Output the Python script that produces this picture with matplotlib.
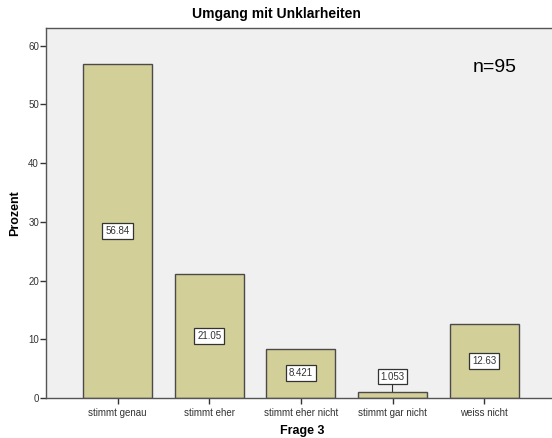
import numpy as np
import matplotlib
matplotlib.use("Agg")
import matplotlib.pyplot as plt

plt.rcParams['font.family'] = ['Liberation Sans', 'DejaVu Sans']

# Daten
kategorien = ["stimmt genau", "stimmt eher", "stimmt eher nicht", "stimmt gar nicht", "weiss nicht"]
prozent = [56.84, 21.05, 8.421, 1.053, 12.63]
etiketten = ["56.84", "21.05", "8.421", "1.053", "12.63"]
yticks = [0, 10, 20, 30, 40, 50, 60]

fig = plt.figure(figsize=(5.52, 4.38), dpi=100)
ax = fig.add_axes([46/552, 1-398/438, 1-46/552+0.01, (398-28)/438])
ax.set_facecolor("#f0f0f0")

x = np.arange(len(kategorien))
ax.bar(x, prozent, width=0.75, color="#d3cf98", edgecolor="#4a4a4a", linewidth=1.0, zorder=2)

box = dict(boxstyle="square,pad=0.3", facecolor="white", edgecolor="#333333", linewidth=0.9)
for i, (v, t) in enumerate(zip(prozent, etiketten)):
    if v < 3:
        ax.annotate(t, xy=(i, v), xytext=(i, v + 2.6), ha="center", va="center",
                    fontsize=7, color="#333333", bbox=box,
                    arrowprops=dict(arrowstyle="-", color="#333333", lw=0.8, shrinkA=0, shrinkB=0), zorder=3)
    else:
        ax.text(i, v / 2, t, ha="center", va="center", fontsize=7, color="#333333", bbox=box, zorder=3)

ax.set_xlim(-0.78, 4.8)
ax.set_ylim(0, 63)
ax.set_yticks(yticks)
ax.set_xticks(x)
ax.set_xticklabels(kategorien)
ax.tick_params(axis="both", labelsize=7, colors="#333333", length=4, width=1, direction="out")
ax.tick_params(axis="x", pad=3)
ax.tick_params(axis="y", pad=1)

for s in ["left", "bottom", "top"]:
    ax.spines[s].set_color("#555555")
    ax.spines[s].set_linewidth(1.0)
ax.spines["right"].set_visible(False)

ax.set_ylabel("Prozent", fontsize=9, fontweight="bold", labelpad=5)
ax.set_xlabel("Frage 3", fontsize=9, fontweight="bold", labelpad=5)
fig.text(0.5, 1-14/438, "Umgang mit Unklarheiten", ha="center", va="center", fontsize=10, fontweight="bold")
fig.text(495/552, 1-68/438, "n=95", ha="center", va="center", fontsize=14)

fig.savefig("out.png", dpi=100)
